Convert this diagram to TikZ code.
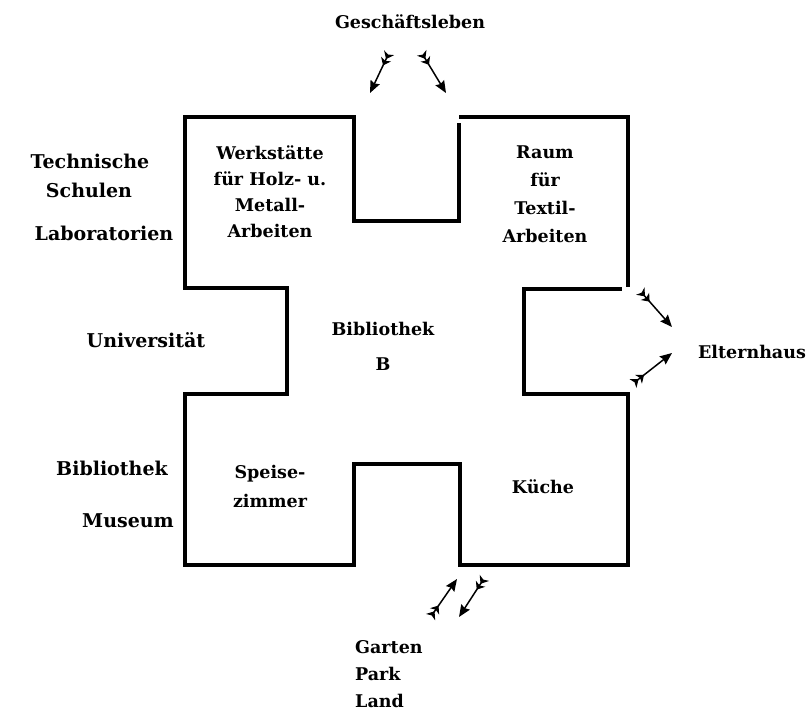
\documentclass[tikz,border=0pt]{standalone}
\usepackage{fontspec}
\setmainfont{DejaVu Serif}
\usepackage{tikz}
\usetikzlibrary{arrows.meta}

\tikzset{
    wall/.style={line width=3.5pt, line join=miter},
    route/.style={line width=1.5pt,
        {Stealth[reversed,length=7pt,width=11pt,inset=2pt,sep=-2.5pt]Stealth[reversed,length=7pt,width=11pt,inset=2pt]}-{Stealth[length=12pt,width=10pt,inset=1.5pt]}},
    lbl/.style={font=\bfseries\fontsize{17.5}{26}\selectfont, inner sep=0pt},
    side/.style={lbl, font=\bfseries\fontsize{19}{26}\selectfont},
}

\begin{document}
\begin{tikzpicture}[x=1pt, y=-1pt]
    \useasboundingbox (0,0) rectangle (809,710);

    % Floor plan
    \draw [wall] (459,123) -- (459,221) -- (354,221) -- (354,117) -- (185,117)
        -- (185,288) -- (287,288) -- (287,394) -- (185,394) -- (185,565)
        -- (354,565) -- (354,464) -- (460,464) -- (460,565) -- (628,565)
        -- (628,394) -- (524,394) -- (524,289) -- (622,289);
    \draw [wall] (459,117) -- (628,117) -- (628,287);

    % Rooms
    \node [lbl, align=center] (werk) at (270,192) {Werkstätte\\für Holz- u.\\Metall-\\Arbeiten};
    \node [lbl, align=center, font=\bfseries\fontsize{17.5}{28}\selectfont] (textil) at (545,194) {Raum\\für\\Textil-\\Arbeiten};
    \node [lbl, align=center, font=\bfseries\fontsize{17.5}{35}\selectfont] (bib) at (383,346) {Bibliothek\\B};
    \node [lbl, align=center, font=\bfseries\fontsize{17.5}{29}\selectfont] (speise) at (270,486) {Speise-\\zimmer};
    \node [lbl, anchor=base] (kueche) at (543,493) {Küche};

    % Surroundings
    \node [lbl, anchor=base] (gesch) at (410,28) {Geschäftsleben};
    \node [side, anchor=base] (tech) at (90,168) {Technische};
    \node [side, anchor=base] (schul) at (89,197) {Schulen};
    \node [side, anchor=base] (labor) at (104,240) {Laboratorien};
    \node [side, anchor=base] (uni) at (146,347) {Universität};
    \node [side, anchor=base] (biblio) at (112,475) {Bibliothek};
    \node [side, anchor=base] (museum) at (128,527) {Museum};
    \node [lbl, anchor=base] (eltern) at (752,358) {Elternhaus};
    \node [lbl, align=left, anchor=west, font=\bfseries\fontsize{17.5}{27}\selectfont] (garten) at (355,674) {Garten\\Park\\Land};

    % Ways in and out
    \coordinate (gA) at (388,55);  \coordinate (gB) at (370,93);
    \coordinate (gC) at (423,55);  \coordinate (gD) at (446,93);
    \coordinate (eA) at (642,293); \coordinate (eB) at (672,327);
    \coordinate (eC) at (635,382); \coordinate (eD) at (672,353);
    \coordinate (pA) at (432,615); \coordinate (pB) at (457,579);
    \coordinate (pC) at (483,580); \coordinate (pD) at (459,617);
    \draw [route] (gA) -- (gB);
    \draw [route] (gC) -- (gD);
    \draw [route] (eA) -- (eB);
    \draw [route] (eC) -- (eD);
    \draw [route] (pA) -- (pB);
    \draw [route] (pC) -- (pD);
\end{tikzpicture}
\end{document}
